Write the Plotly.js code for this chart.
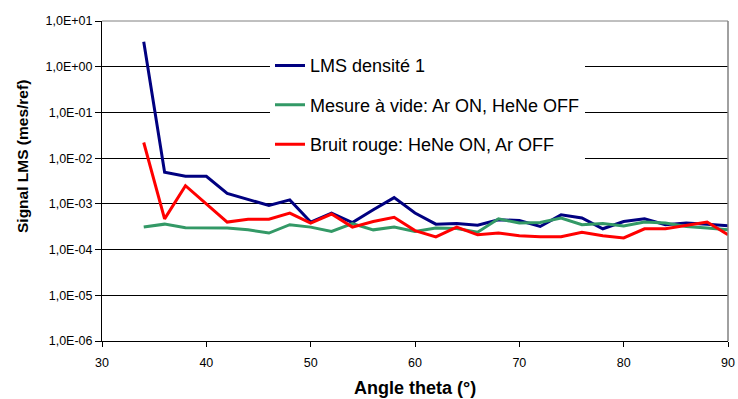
<!DOCTYPE html>
<html>
<head>
<meta charset="utf-8">
<script src="https://cdn.plot.ly/plotly-3.0.1.min.js"></script>
<style>
html,body{margin:0;padding:0;background:#fff;}
#chart{width:738px;height:399px;}
</style>
</head>
<body>
<div id="chart"></div>
<script>
var angles = [34,36,38,40,42,44,46,48,50,52,54,56,58,60,62,64,66,68,70,72,74,76,78,80,82,84,86,88,90];
var lmsDensite = [3.5,4.9e-3,4.0e-3,4.0e-3,1.7e-3,1.27e-3,9.2e-4,1.22e-3,4.0e-4,6.3e-4,3.9e-4,7.4e-4,1.37e-3,6.3e-4,3.6e-4,3.7e-4,3.4e-4,4.5e-4,4.3e-4,3.2e-4,5.75e-4,4.9e-4,2.85e-4,4.1e-4,4.7e-4,3.5e-4,3.8e-4,3.6e-4,3.3e-4];
var mesureVide = [3.1e-4,3.6e-4,3.0e-4,3.0e-4,2.95e-4,2.7e-4,2.3e-4,3.5e-4,3.1e-4,2.5e-4,3.7e-4,2.7e-4,3.1e-4,2.5e-4,2.95e-4,2.9e-4,2.4e-4,4.7e-4,3.8e-4,3.9e-4,4.9e-4,3.5e-4,3.7e-4,3.3e-4,4.0e-4,3.8e-4,3.2e-4,2.95e-4,2.7e-4];
var bruitRouge = [2.2e-2,4.7e-4,2.5e-3,1.0e-3,4.0e-4,4.6e-4,4.6e-4,6.3e-4,3.8e-4,6.0e-4,3.1e-4,4.1e-4,5.1e-4,2.6e-4,1.9e-4,3.1e-4,2.1e-4,2.3e-4,2.0e-4,1.9e-4,1.9e-4,2.4e-4,2.0e-4,1.8e-4,2.85e-4,2.85e-4,3.35e-4,4.0e-4,2.1e-4];
var seriesNames = ["LMS densité 1","Mesure à vide: Ar ON, HeNe OFF","Bruit rouge: HeNe ON, Ar OFF"];
var yTickVals = [1e-6,1e-5,1e-4,1e-3,1e-2,1e-1,1e0,1e1];
var yTickText = ["1,0E-06","1,0E-05","1,0E-04","1,0E-03","1,0E-02","1,0E-01","1,0E+00","1,0E+01"];
var xTickVals = [30,40,50,60,70,80,90];
var xTitle = "Angle theta (°)";
var yTitle = "Signal LMS (mes/ref)";

var font = "Liberation Sans, Arial, sans-serif";
var plotW = 738 - 102 - 10;
var traces = [
  {x: angles, y: lmsDensite, name: seriesNames[0], legendgroup: "a", mode: "lines", line: {color: "#000080", width: 3}},
  {x: angles, y: mesureVide, name: seriesNames[1], legendgroup: "b", mode: "lines", line: {color: "#339966", width: 3}},
  {x: angles, y: bruitRouge, name: seriesNames[2], legendgroup: "c", mode: "lines", line: {color: "#FF0000", width: 3}}
];
var layout = {
  width: 738, height: 399,
  margin: {l: 102, r: 10, t: 21, b: 58},
  paper_bgcolor: "#fff", plot_bgcolor: "#fff",
  font: {family: font, color: "#000"},
  showlegend: true,
  legend: {x: (270 - 102) / plotW, y: 0.918, xanchor: "left", yanchor: "top", bgcolor: "#fff", borderwidth: 0,
           font: {size: 18, family: font}, tracegroupgap: 13, itemwidth: 30},
  xaxis: {range: [30, 90], tickvals: xTickVals, ticks: "outside", ticklen: 5, tickcolor: "#000",
          showgrid: false, zeroline: false, showline: true, linecolor: "#000", linewidth: 1,
          tickfont: {size: 12.5, family: font}, fixedrange: true, ticklabelstandoff: 5},
  yaxis: {type: "log", range: [-6, 1], tickvals: yTickVals, ticktext: yTickText, ticks: "outside", ticklen: 6,
          tickcolor: "#000", showgrid: true, gridcolor: "#000", gridwidth: 1, zeroline: false,
          showline: true, linecolor: "#000", linewidth: 1, tickfont: {size: 12.5, family: font}},
  annotations: [
    {text: xTitle, xref: "paper", yref: "paper", x: (415 - 102) / plotW, y: (341 - 388) / 320,
     xanchor: "center", yanchor: "middle", showarrow: false, font: {size: 18, family: font, weight: "bold"}},
    {text: yTitle, xref: "paper", yref: "paper", x: (22 - 102) / plotW, y: (341 - 157) / 320, textangle: -90,
     xanchor: "center", yanchor: "middle", showarrow: false, font: {size: 15.5, family: font, weight: "bold"}}
  ],
  shapes: [
    {type: "line", xref: "paper", yref: "paper", x0: 0, x1: 1, y0: 1, y1: 1, line: {color: "#808080", width: 1}, layer: "above"},
    {type: "line", xref: "paper", yref: "paper", x0: 1, x1: 1, y0: 0, y1: 1, line: {color: "#808080", width: 1.5}, layer: "above"}
  ]
};
Plotly.newPlot("chart", traces, layout, {displayModeBar: false, staticPlot: true});
</script>
</body>
</html>
